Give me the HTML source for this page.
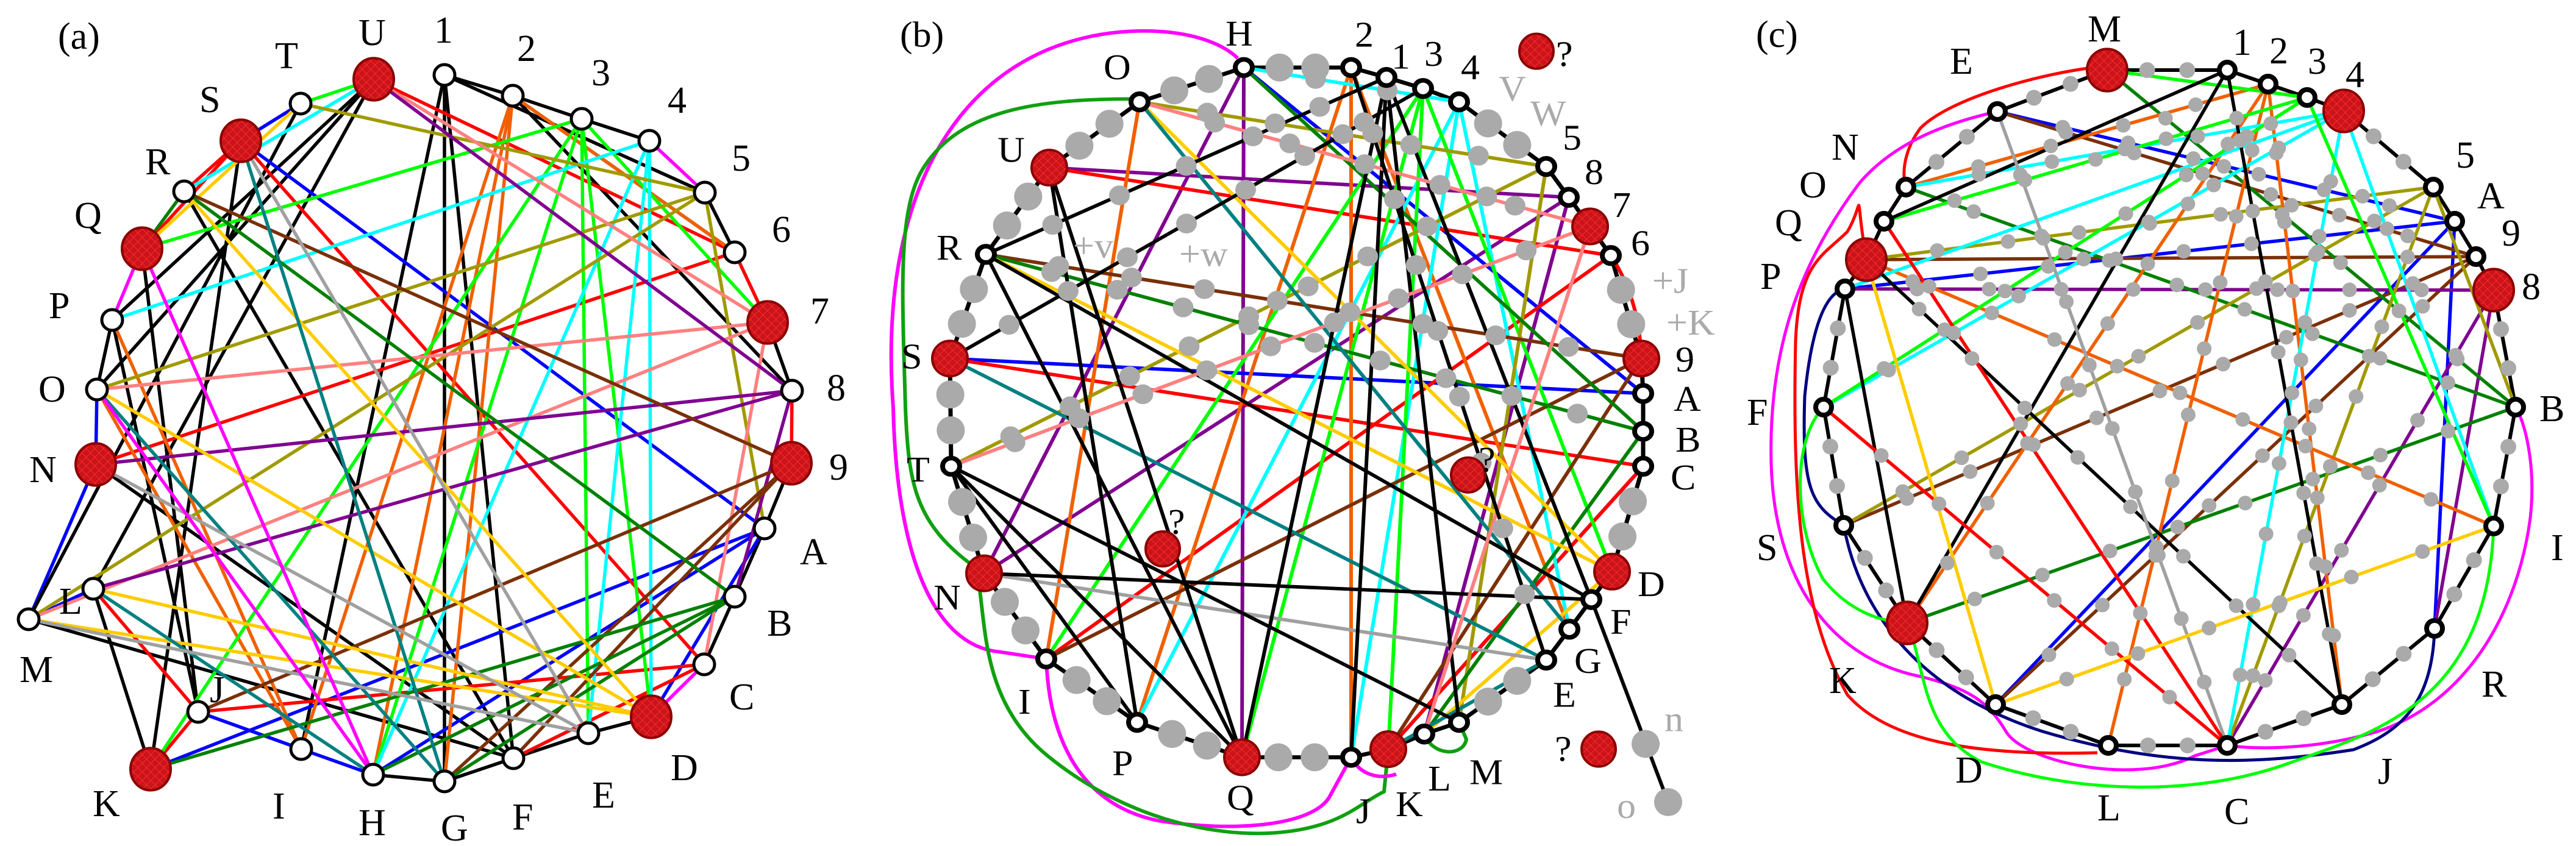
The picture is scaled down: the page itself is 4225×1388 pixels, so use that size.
<!DOCTYPE html>
<html><head><meta charset="utf-8"><style>
html,body{margin:0;padding:0;background:#fff;width:4225px;height:1388px;overflow:hidden}
svg{display:block}
text{font-family:"Liberation Serif",serif;font-size:62px;fill:#000}
.g{fill:#aaa}
</style></head><body>
<svg id="s" width="4225" height="1388" viewBox="0 0 4225 1388" xmlns="http://www.w3.org/2000/svg">
<defs>
<pattern id="hx" width="10" height="10" patternUnits="userSpaceOnUse" patternTransform="rotate(45)">
<rect width="10" height="10" fill="#c8141a"/><path d="M0 0H10M0 0V10" stroke="#ff2a2a" stroke-width="2"/></pattern>
</defs>
<g id="E"></g><g id="D"></g><g id="N"></g>
<g transform="matrix(1,0,0,0.955,0,0)"><g id="Eb"></g><g id="Db"></g><g id="Nb"></g>
<text x="1476" y="80">(b)</text>
<text x="2010" y="78">H</text><text x="2222" y="80">2</text><text x="2282" y="118">1</text><text x="2336" y="113">3</text>
<text x="2396" y="136">4</text><text x="2563" y="257">5</text><text x="2599" y="316">8</text><text x="2644" y="373">7</text>
<text x="2675" y="438">6</text><text x="2748" y="638">9</text><text x="2745" y="706">A</text><text x="2748" y="776">B</text>
<text x="2740" y="841">C</text><text x="2686" y="1024">D</text><text x="2641" y="1089">F</text><text x="2582" y="1156">G</text>
<text x="2547" y="1214">E</text><text x="2410" y="1347">M</text><text x="2342" y="1358">L</text><text x="2289" y="1402">K</text>
<text x="2224" y="1414">J</text><text x="2012" y="1391">Q</text><text x="1824" y="1332">P</text><text x="1670" y="1226">I</text>
<text x="1531" y="1047">N</text><text x="1487" y="827">T</text><text x="1478" y="633">S</text><text x="1536" y="446">R</text>
<text x="1636" y="278">U</text><text x="1810" y="136">O</text>
<text x="2552" y="113">?</text><text x="2425" y="810">?</text><text x="1916" y="917">?</text><text x="2550" y="1307">?</text>
<text class="g" x="2458" y="173">V</text><text class="g" x="2510" y="215">W</text>
<text class="g" x="1760" y="443">+v</text><text class="g" x="1934" y="457">+w</text>
<text class="g" x="2710" y="503">+J</text><text class="g" x="2733" y="575">+K</text>
<text class="g" x="2730" y="1256">n</text><text class="g" x="2652" y="1405">o</text>
</g>
<g>
<text x="95" y="80">(a)</text>
<text x="712" y="70">1</text><text x="848" y="100">2</text><text x="970" y="140">3</text><text x="1095" y="185">4</text>
<text x="1200" y="280">5</text><text x="1266" y="397">6</text><text x="1329" y="531">7</text><text x="1356" y="657">8</text>
<text x="1360" y="787">9</text><text x="1312" y="926">A</text><text x="1258" y="1043">B</text><text x="1196" y="1164">C</text>
<text x="1100" y="1280">D</text><text x="971" y="1325">E</text><text x="840" y="1361">F</text><text x="723" y="1379">G</text>
<text x="588" y="1370">H</text><text x="447" y="1343">I</text><text x="344" y="1152">J</text><text x="152" y="1339">K</text>
<text x="97" y="1007">L</text><text x="32" y="1119">M</text><text x="48" y="791">N</text><text x="63" y="659">O</text>
<text x="80" y="522">P</text><text x="122" y="374">Q</text><text x="238" y="286">R</text><text x="327" y="184">S</text>
<text x="451" y="112">T</text><text x="588" y="74">U</text>

<text x="2880" y="77">(c)</text>
<text x="3424" y="68">M</text><text x="3198" y="121">E</text><text x="3662" y="90">1</text><text x="3722" y="104">2</text>
<text x="3785" y="121">3</text><text x="3847" y="143">4</text><text x="4028" y="275">5</text><text x="4063" y="342">A</text>
<text x="4103" y="403">9</text><text x="4136" y="491">8</text><text x="4165" y="691">B</text><text x="4184" y="919">I</text>
<text x="4070" y="1143">R</text><text x="3900" y="1286">J</text><text x="3648" y="1352">C</text><text x="3440" y="1346">L</text>
<text x="3207" y="1284">D</text><text x="3000" y="1137">K</text><text x="2881" y="919">S</text><text x="2865" y="697">F</text>
<text x="2887" y="474">P</text><text x="2911" y="386">Q</text><text x="2951" y="324">O</text><text x="3004" y="262">N</text>
</g>
</svg>
<script>
var NS="http://www.w3.org/2000/svg";
function el(p,t,a){var e=document.createElementNS(NS,t);for(var k in a)e.setAttribute(k,a[k]);document.getElementById(p).appendChild(e);return e;}
var C={k:"#000",B:"#0000ff",r:"#ff0000",o:"#f06000",g:"#00ff00",c:"#00ffff",y:"#a09a00",p:"#ff8080",u:"#800090",n:"#7a3008",d:"#008000",Y:"#ffcc00",t:"#008080",s:"#a0a0a0",m:"#ff00ff",v:"#000080"};
var A={"1":[729,123],"2":[841,157],"3":[954,195],"4":[1065,231],"5":[1156,316],"6":[1205,414],"7":[1259,529],"8":[1299,641],"9":[1298,760],A:[1254,867],B:[1205,979],C:[1155,1090],D:[1068,1176],E:[965,1203],F:[842,1244],G:[729,1282],H:[612,1271],I:[494,1229],J:[325,1168],K:[247,1262],L:[153,966],M:[47,1016],N:[157,762],O:[159,639],P:[184,525],Q:[233,408],R:[302,314],S:[395,231],T:[493,170],U:[613,130]};
var Ar="79DKNQSU";
var Be={H:[2040,116],"2":[2216,116],"1":[2274,133],"3":[2334,152],"4":[2393,175],"5":[2536,286],"8":[2573,339],"7":[2608,389],"6":[2642,439],"9":[2692,616],A:[2695,676],B:[2695,741],C:[2695,801],D:[2644,982],F:[2610,1030],G:[2574,1081],E:[2536,1134],M:[2393,1241],L:[2336,1261],K:[2277,1287],J:[2216,1301],Q:[2037,1301],P:[1865,1241],I:[1716,1132],N:[1614,985],T:[1560,801],S:[1558,616],R:[1617,437],U:[1721,288],O:[1869,175]};
var Br="79DKQNSU";
var Ce={M:[3456,115],"1":[3653,115],"2":[3720,138],"3":[3784,160],"4":[3844,182],"5":[3991,307],A:[4026,363],"9":[4061,421],"8":[4090,476],B:[4126,668],I:[4090,863],R:[3993,1031],J:[3841,1156],C:[3653,1223],L:[3458,1223],D:[3273,1156],K:[3128,1022],S:[3024,862],F:[2991,668],P:[3026,474],Q:[3061,426],O:[3090,363],N:[3126,307],E:[3276,183]};
var Cr="M48QK";
function L(a,b,c,w,dot,P,rd,g){g=g||"";var p=P[a],q=P[b];el("E"+g,"line",{x1:p[0],y1:p[1],x2:q[0],y2:q[1],stroke:C[c],"stroke-width":w});
 if(dot){var dx=q[0]-p[0],dy=q[1]-p[1],d=Math.sqrt(dx*dx+dy*dy),n=Math.floor(d/110);for(var i=1;i<n;i++){var t=i/n;el("D"+g,"circle",{cx:p[0]+dx*t,cy:p[1]+dy*t,r:rd,fill:"#aaa"});}}}
function edges(list,P,w,rd,g){list.split(" ").forEach(function(s){L(s[0],s[1],s[2],w,s[3]==".",P,rd,g);});}
edges("12k 23k 34k 45m 56k 67r 78k 89r 9Ak ABk BCk CDm DEk EFk FGk GHk HIB IJB JKr KLk LMB MNB NOB OPk PQm QRd RSr STB TUg 1Gk 1Ik 1Fk 15k 28k 26k UOk ULk PUk QJk RFk PJk MFk NFk KSk MTk SAB KAB HAB DAB U6r SCr N6r JCr FCr LJr QSr 2Io 2Go 2Ho 26o PIo OIo 3Kg 3Eg 3Dg 3Qg 37g 3Hg 4Pc 4Hc 4Ec 4Dc URc TQY T5y 5Oy 5My 5Ay U7p O7p M7p 7Cp U8u N8u L8u 8Bu R9n J9n 9Gn 9Fn RBd BKd BHd BGd ODY RDY LDY MDY SGt OGt LHt SEs MEs NEs QHm OHm",A,5.5,0);
var ringB="H21345876 9ABCDFGEMLKJQPINTSRUOH".replace(" ","");
for(var i=0;i<ringB.length-1;i++){L(ringB[i],ringB[i+1],"k",7,false,Be,0,"b");}
edges("HQu HNu N8u U8u 8Lu HAB SAB KCB U6r SCr I6r KCr OIo 2Po 2Jo 2Go H4c. 4Pc 4Jc 4Gc 3Ig 3Qg 3Kg 3Dg O5y. T5y. 5My R9n. I9n 9Kn RBd. HBd LBd ODY RDY LDY OGt SEt KEt NEs 1Fk 1Qk 1Jk 1Mk UPk UQk RQk RFk TMk TQk TPk NFk O7p. T7p. 7Lp R1k. 2Ek. S3k.",Be,6,17,"b");
for(var i=0;i<ringB.length-1;i++){var p=Be[ringB[i]],q=Be[ringB[i+1]];var d=Math.hypot(q[0]-p[0],q[1]-p[1]);var n=Math.floor(d/80);for(var j=1;j<=n;j++){var t=j/(n+1);el("Db","ellipse",{cx:p[0]+(q[0]-p[0])*t,cy:p[1]+(q[1]-p[1])*t,rx:23,ry:24,fill:"#aaa"});}}
el("Eb","line",{x1:2610,y1:1030,x2:2736,y2:1378,stroke:"#000","stroke-width":6});
el("Db","ellipse",{cx:2699,cy:1278,rx:23,ry:24,fill:"#aaa"});el("Db","ellipse",{cx:2736,cy:1378,rx:23,ry:24,fill:"#aaa"});
el("Eb","path",{d:"M2030 100 C1980 50 1860 40 1760 70 C1560 130 1440 350 1465 700 C1470 950 1530 1110 1640 1120 L1716 1132 C1720 1250 1760 1380 1900 1410 C2020 1430 2150 1420 2180 1370 L2216 1301",fill:"none",stroke:"#ff00ff","stroke-width":6});
el("Eb","path",{d:"M1855 170 C1700 170 1580 190 1520 280 C1470 350 1480 500 1485 700 C1490 830 1500 900 1600 975 C1620 1050 1600 1200 1720 1300 C1850 1410 2000 1440 2100 1430 C2200 1420 2230 1380 2270 1360 L2277 1287",fill:"none",stroke:"#10a010","stroke-width":6});
el("Eb","path",{d:"M2216 1301 C2230 1330 2260 1340 2290 1330",fill:"none",stroke:"#ff00ff","stroke-width":6});
el("Eb","path",{d:"M2336 1261 C2350 1300 2400 1300 2405 1270 L2393 1241",fill:"none",stroke:"#10a010","stroke-width":6});
el("Eb","path",{d:"M2642 439 C2680 500 2690 560 2692 616",fill:"none",stroke:"#ff0000","stroke-width":6});
var ringC="M12345A98BIRJCLDKSFPQONEM";
for(var i=0;i<ringC.length-1;i++){L(ringC[i],ringC[i+1],"k",6,false,Ce);}
edges("EAB. PAB. ADB ARB E9n. Q9n S9n. 9Dn. P8u. 8Cu. 8Ru MBd. NBd. KBd. 5Qy. 5Sy. 5Cy. 5By N2o. 2Ko. 2Lo. 2Jo. QIo. N4c. 4Fc. 4Cc. 4Ic 4Pc O3g. 3Fg. 3Ig M3g 1Ok 1Kk 1Jk. QJk. PKk ECs. OCr FCr. QDY DIY.",Ce,5.5,12);
for(var i=0;i<ringC.length-1;i++){var p=Ce[ringC[i]],q=Ce[ringC[i+1]];var d=Math.hypot(q[0]-p[0],q[1]-p[1]);var n=Math.max(0,Math.round(d/70)-1);for(var j=1;j<=n;j++){var t=j/(n+1);el("D","circle",{cx:p[0]+(q[0]-p[0])*t,cy:p[1]+(q[1]-p[1])*t,r:13,fill:"#aaa"});}}
el("E","path",{d:"M3440 110 C3350 120 3200 160 3150 210 C3120 250 3120 290 3126 307",fill:"none",stroke:"#ff0000","stroke-width":5});
el("E","path",{d:"M3276 183 C3200 200 3110 230 3050 300 C2960 420 2900 560 2905 760 C2910 950 3000 1080 3150 1110 C3230 1130 3260 1150 3290 1200 C3320 1250 3500 1290 3600 1240 L3653 1223 C3700 1230 3800 1230 3900 1200 C4050 1150 4130 1000 4150 850 C4160 760 4140 690 4126 668",fill:"none",stroke:"#ff00ff","stroke-width":5});
el("E","path",{d:"M3061 426 C3040 300 3060 330 3030 380 C2990 420 2950 430 2945 560 C2940 800 2950 1000 3030 1140 C3100 1220 3250 1240 3440 1235",fill:"none",stroke:"#ff0000","stroke-width":5});
el("E","path",{d:"M3026 474 C2990 480 2970 550 2960 650 C2955 800 2970 830 3024 862 C3040 950 3100 1120 3350 1200 C3550 1260 3700 1255 3860 1230 C3940 1200 3990 1150 3993 1031",fill:"none",stroke:"#000080","stroke-width":5});
el("E","path",{d:"M2991 668 C2940 720 2940 860 2990 950 C3030 1000 3080 1020 3128 1022 C3160 1100 3150 1200 3250 1250 C3400 1300 3600 1310 3760 1250 C3900 1200 4080 1150 4090 863",fill:"none",stroke:"#00ff00","stroke-width":5});
function nodes(P,red,r,rr,sw,g){for(var k in P){var p=P[k];if(red.indexOf(k)>=0){el(g,"ellipse",{cx:p[0],cy:p[1],rx:rr,ry:rr*1.05,fill:"url(#hx)",stroke:"#8a0000","stroke-width":4});}else{el(g,"circle",{cx:p[0],cy:p[1],r:r,fill:"#fff",stroke:"#000","stroke-width":sw});}}}
nodes(A,Ar,17,33,5,"N");nodes(Be,Br,14,29,8,"Nb");nodes(Ce,Cr,13,33,8,"N");
[[2520,88],[2408,816],[1907,943],[2622,1287]].forEach(function(p){el("Nb","ellipse",{cx:p[0],cy:p[1],rx:28,ry:30,fill:"url(#hx)",stroke:"#8a0000","stroke-width":4});});
</script>
</body></html>
